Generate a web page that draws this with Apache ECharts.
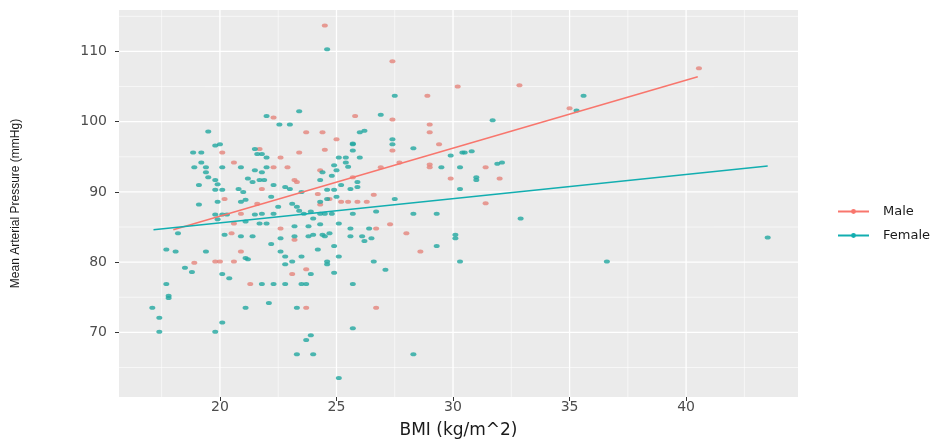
<!DOCTYPE html>
<html style="height: 100%;">
  <head>
    <meta charset="utf-8" />
  </head>
  <body style="height: 100%; margin: 0; background: #fff;">
    <div id="container" style="width: 931px; height: 444px;"></div>
    <script src="https://cdn.jsdelivr.net/npm/echarts@6.0.0/dist/echarts.min.js"></script>
    <script type="text/javascript">
      // [BMI, mean arterial pressure]
      var malePoints = [
        [24.5, 113.7], [27.4, 108.6], [40.55, 107.6], [32.85, 105.2], [30.2, 105.0],
        [28.9, 103.7], [35.0, 101.9], [22.3, 100.6], [25.8, 100.8], [27.4, 100.3],
        [29.0, 99.6], [29.0, 98.5], [23.7, 98.5], [24.4, 98.5], [25.0, 97.5],
        [29.4, 96.8], [27.4, 95.9], [24.5, 96.0], [20.1, 95.6], [21.7, 96.1],
        [22.6, 94.9], [23.4, 95.6], [20.6, 94.2], [22.3, 93.5], [22.9, 93.5],
        [26.9, 93.5], [27.7, 94.2], [29.0, 93.9], [29.0, 93.5], [31.4, 93.5],
        [24.3, 93.1], [23.2, 91.7], [23.3, 91.4], [25.7, 92.1], [29.9, 91.9],
        [32.0, 91.9], [21.8, 90.4], [24.2, 89.7], [24.7, 89.0], [26.6, 89.6],
        [20.2, 89.0], [21.6, 88.3], [24.3, 88.2], [25.2, 88.6], [25.5, 88.6],
        [25.9, 88.6], [26.3, 88.6], [31.4, 88.4], [20.9, 86.9], [20.6, 85.5],
        [22.6, 84.8], [26.7, 84.8], [27.3, 85.4], [20.5, 84.1], [28.0, 84.1],
        [23.2, 83.2], [20.9, 81.5], [28.6, 81.5], [18.9, 79.9], [19.8, 80.1],
        [20.0, 80.1], [20.6, 80.1], [23.7, 79.0], [23.1, 78.3], [21.3, 76.9],
        [23.7, 73.5], [26.7, 73.5]
      ];
      var femalePoints = [
        [24.6, 110.3], [27.5, 103.7], [35.6, 103.7], [35.3, 101.6], [31.7, 100.2],
        [23.4, 101.5], [22.0, 100.8], [26.9, 101.0], [22.55, 99.6], [23.0, 99.6],
        [19.5, 98.6], [26.0, 98.5], [26.2, 98.7], [27.4, 97.5], [27.4, 96.8],
        [28.3, 96.2], [30.4, 95.6], [30.8, 95.8], [29.9, 95.2], [30.5, 95.6],
        [19.8, 96.6], [20.0, 96.8], [18.85, 95.6], [19.2, 95.6], [21.5, 96.1],
        [21.6, 95.4], [21.8, 95.4], [22.0, 94.9], [25.7, 96.8], [25.7, 96.9],
        [25.1, 94.9], [25.4, 94.9], [25.7, 95.9], [26.0, 94.9], [25.4, 94.2],
        [19.2, 94.2], [19.4, 93.5], [18.9, 93.5], [20.1, 93.5], [20.9, 93.5],
        [21.5, 93.1], [22.0, 93.5], [24.9, 93.8], [25.0, 93.1], [25.5, 93.6],
        [29.5, 93.5], [30.3, 93.5], [31.9, 94.0], [32.1, 94.2], [19.4, 92.8],
        [19.5, 92.1], [21.8, 92.8], [24.4, 92.8], [24.8, 92.3], [24.3, 91.7],
        [31.0, 92.1], [31.0, 91.7], [19.8, 91.7], [19.9, 91.1], [21.2, 91.9],
        [21.4, 91.4], [21.7, 91.7], [21.9, 91.7], [19.1, 91.0], [25.9, 91.4],
        [25.2, 91.0], [22.3, 91.0], [25.9, 90.7], [19.8, 90.3], [20.1, 90.3],
        [20.8, 90.4], [21.0, 90.0], [22.8, 90.7], [23.0, 90.4], [23.5, 90.0],
        [24.6, 90.3], [24.9, 90.3], [25.6, 90.4], [30.3, 90.4], [19.1, 88.2],
        [19.9, 88.6], [20.9, 88.6], [21.1, 88.9], [22.2, 89.3], [22.5, 87.9],
        [23.1, 88.3], [23.3, 87.9], [24.3, 88.6], [24.6, 89.0], [25.0, 89.3],
        [27.5, 89.0], [19.8, 86.8], [20.1, 86.8], [20.3, 86.8], [21.5, 86.8],
        [21.8, 86.9], [22.3, 86.9], [23.4, 87.3], [23.6, 86.9], [23.9, 87.2],
        [24.3, 86.9], [24.5, 86.9], [24.8, 86.9], [25.7, 86.9], [26.7, 87.2],
        [28.3, 86.9], [29.3, 86.9], [32.9, 86.2], [24.0, 86.2], [19.9, 86.1],
        [21.1, 85.8], [21.7, 85.5], [22.0, 85.5], [23.2, 85.1], [23.8, 85.1],
        [24.3, 85.4], [25.1, 85.5], [25.6, 84.8], [26.4, 84.8], [18.2, 84.1],
        [20.2, 83.9], [20.9, 83.7], [21.4, 83.7], [22.6, 83.4], [23.2, 83.7],
        [23.8, 83.7], [24.0, 83.9], [24.4, 83.9], [24.5, 83.7], [24.7, 84.1],
        [25.6, 83.7], [26.1, 83.7], [26.2, 83.0], [26.5, 83.4], [30.1, 83.9],
        [30.1, 83.4], [43.5, 83.5], [22.2, 82.6], [24.2, 81.8], [24.9, 82.3],
        [29.3, 82.3], [17.7, 81.8], [18.1, 81.5], [19.4, 81.5], [22.6, 81.5],
        [21.1, 80.6], [21.2, 80.4], [22.8, 80.8], [23.1, 80.1], [23.5, 80.8],
        [24.6, 80.1], [25.1, 80.8], [26.6, 80.1], [30.3, 80.1], [36.6, 80.1],
        [22.8, 79.7], [24.6, 79.7], [18.5, 79.2], [18.8, 78.6], [27.1, 78.9],
        [20.1, 78.3], [23.9, 78.3], [24.9, 78.5], [20.4, 77.7], [17.7, 76.9],
        [21.8, 76.9], [22.3, 76.9], [22.8, 76.9], [23.5, 76.9], [23.7, 76.9],
        [25.7, 76.9], [17.8, 75.2], [17.8, 74.9], [22.1, 74.2], [17.1, 73.5],
        [21.1, 73.5], [23.3, 73.5], [17.4, 72.1], [20.1, 71.4], [25.7, 70.6],
        [17.4, 70.1], [19.8, 70.1], [23.9, 69.6], [23.7, 68.9], [23.3, 66.9],
        [24.0, 66.9], [28.3, 66.9], [25.1, 63.5]
      ];
      // ends of the fitted lines
      var maleFit = [[18.0, 84.6], [40.5, 106.4]];
      var femaleFit = [[17.15, 84.6], [43.5, 93.7]];

      var xMajor = [20, 25, 30, 35, 40];
      var xMinor = [17.5, 22.5, 27.5, 32.5, 37.5, 42.5];
      var yMajor = [70, 80, 90, 100, 110];
      var yMinor = [65, 75, 85, 95, 105, 115];

      var xMin = 15.67, xMax = 44.8, yMin = 60.8, yMax = 115.9;

      var dom = document.getElementById("container");
      var myChart = echarts.init(dom);

      // white panel grid lines, drawn through the axes' own scales
      function gridSeries(values, vertical, width) {
        return {
          type: "custom",
          silent: true,
          z: 1,
          data: values.map(function (v) {
            return vertical ? [v, yMin] : [xMin, v];
          }),
          renderItem: function (params, api) {
            var a, b;
            if (vertical) {
              a = api.coord([api.value(0), yMin]);
              b = api.coord([api.value(0), yMax]);
            } else {
              a = api.coord([xMin, api.value(1)]);
              b = api.coord([xMax, api.value(1)]);
            }
            return {
              type: "line",
              shape: { x1: a[0], y1: a[1], x2: b[0], y2: b[1] },
              style: { stroke: "#ffffff", lineWidth: width },
            };
          },
        };
      }

      var labelStyle = { fontFamily: "DejaVu Sans", fontSize: 14, color: "#4d4d4d" };

      var option = {
        animation: false,
        grid: {
          left: 119,
          right: 133,
          top: 10,
          bottom: 42,
          show: true,
          backgroundColor: "#ebebeb",
          borderWidth: 0,
        },
        legend: {
          data: ["Male", "Female"],
          orient: "vertical",
          left: 832,
          top: 200,
          itemWidth: 31,
          itemHeight: 6,
          itemGap: 11,
          selectedMode: false,
          textStyle: { fontFamily: "DejaVu Sans", fontSize: 13, color: "#1a1a1a", padding: [0, 0, 0, 9] },
        },
        xAxis: {
          type: "value",
          min: xMin,
          max: xMax,
          name: "BMI (kg/m^2)",
          nameLocation: "middle",
          nameGap: 25,
          nameTextStyle: { fontFamily: "DejaVu Sans", fontSize: 17, color: "#1a1a1a" },
          axisLine: { show: false },
          splitLine: { show: false },
          axisTick: { show: true, length: 4, lineStyle: { color: "#333333" }, customValues: xMajor },
          axisLabel: Object.assign({ margin: 3, customValues: xMajor }, labelStyle),
        },
        yAxis: {
          type: "value",
          min: yMin,
          max: yMax,
          name: "Mean Arterial Pressure (mmHg)",
          nameLocation: "middle",
          nameGap: 97,
          nameTextStyle: { fontFamily: "Liberation Sans", fontSize: 12, color: "#1a1a1a" },
          axisLine: { show: false },
          splitLine: { show: false },
          axisTick: { show: true, length: 4, lineStyle: { color: "#333333" }, customValues: yMajor },
          axisLabel: Object.assign({ margin: 12, customValues: yMajor }, labelStyle),
        },
        series: [
          {
            name: "Male",
            type: "line",
            data: maleFit,
            symbol: "circle",
            symbolSize: 5,
            showSymbol: false,
            silent: true,
            z: 4,
            lineStyle: { color: "#F8766D", width: 1.5 },
            itemStyle: { color: "#F8766D" },
          },
          {
            name: "Female",
            type: "line",
            data: femaleFit,
            symbol: "circle",
            symbolSize: 5,
            showSymbol: false,
            silent: true,
            z: 4,
            lineStyle: { color: "#12aeb0", width: 1.5 },
            itemStyle: { color: "#12aeb0" },
          },
          gridSeries(xMinor, true, 0.6),
          gridSeries(yMinor, false, 0.6),
          gridSeries(xMajor, true, 1.3),
          gridSeries(yMajor, false, 1.3),
          {
            name: "Male",
            type: "scatter",
            data: malePoints,
            symbol: "circle",
            symbolSize: [6, 4],
            z: 3,
            itemStyle: { color: "#e5847c" },
          },
          {
            name: "Female",
            type: "scatter",
            data: femalePoints,
            symbol: "circle",
            symbolSize: [6, 4],
            z: 3,
            itemStyle: { color: "#22a8a0" },
          },
        ],
      };

      myChart.setOption(option);
    </script>
  </body>
</html>
